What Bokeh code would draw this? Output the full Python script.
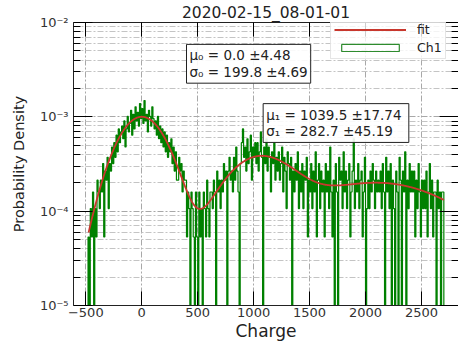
import numpy as np
from bokeh.plotting import figure
from bokeh.models import (Range1d, LogAxis, LinearAxis, FixedTicker,
                          CustomJSTickFormatter, Label, Legend, LegendItem)
from bokeh.embed import file_html
from bokeh.resources import INLINE

# ---- data -------------------------------------------------------------
title_text = "2020-02-15_08-01-01"

bin_start = -480
bin_width = 10
# counts per 10-unit charge bin, from -480 up to 2700
counts = [
    1, 0, 2, 1, 3, 0, 2, 1, 4, 3,
    2, 4, 3, 6, 1, 5, 4, 7, 2, 6,
    5, 9, 6, 10, 7, 12, 8, 14, 10, 13,
    15, 11, 17, 9, 14, 19, 13, 16, 22, 12,
    20, 14, 24, 17, 21, 15, 26, 18, 23, 16,
    28, 17, 20, 13, 22, 19, 15, 24, 18, 14,
    17, 12, 19, 11, 15, 10, 14, 9, 13, 8,
    12, 7, 10, 8, 11, 6, 9, 5, 8, 4,
    4, 7, 5, 6, 3, 5, 4, 4, 1, 3,
    2, 0, 3, 2, 1, 0, 3, 1, 0, 3,
    1, 2, 0, 3, 2, 1, 4, 2, 1, 3,
    3, 2, 4, 3, 0, 5, 3, 4, 2, 4,
    3, 6, 4, 5, 0, 5, 7, 4, 5, 3,
    7, 4, 9, 5, 3, 0, 6, 10, 14, 7,
    9, 5, 11, 6, 8, 12, 4, 9, 7, 10,
    6, 10, 5, 8, 13, 7, 0, 9, 6, 11,
    5, 9, 7, 3, 8, 6, 10, 4, 7, 5,
    8, 4, 6, 9, 3, 7, 5, 2, 8, 6,
    4, 7, 0, 5, 3, 6, 4, 8, 2, 5,
    3, 6, 2, 5, 4, 7, 1, 4, 3, 6,
    2, 5, 3, 8, 1, 4, 6, 2, 5, 3,
    4, 1, 6, 3, 5, 2, 9, 3, 1, 4,
    0, 6, 3, 0, 7, 4, 5, 2, 8, 3,
    5, 2, 4, 6, 1, 3, 5, 11, 2, 4,
    3, 6, 2, 4, 5, 1, 3, 7, 0, 2,
    4, 2, 5, 3, 6, 4, 2, 5, 3, 4,
    3, 5, 2, 6, 3, 0, 7, 3, 5, 2,
    6, 0, 4, 2, 0, 5, 3, 0, 7, 4,
    0, 5, 3, 8, 0, 4, 2, 6, 3, 5,
    3, 5, 1, 4, 2, 6, 3, 1, 4, 2,
    4, 2, 5, 1, 3, 6, 2, 4, 1, 3,
    3, 0, 4, 2, 3, 0, 3, 3,
]

# fit results
mu0, mu0_err = 0.0, 4.48
sigma0, sigma0_err = 199.8, 4.69
mu1, mu1_err = 1039.5, 17.74
sigma1, sigma1_err = 282.7, 45.19
amp0 = 1.0e-3
amp1 = 3.3e-4
mu2, sigma2, amp2 = 2100.0, 655.0, 2.0e-4

x_ticks = [-500, 0, 500, 1000, 1500, 2000, 2500]
y_decades = [-5, -4, -3, -2]

FONT = "DejaVu Sans"

# ---- derived arrays ---------------------------------------------------
counts = np.array(counts, dtype=float)
edges = bin_start + bin_width * np.arange(len(counts) + 1)
density = counts / (counts.sum() * bin_width)
floor = 1e-7  # empty bins fall below the visible range
density = np.where(density > 0, density, floor)
step_x = np.repeat(edges, 2)
step_y = np.concatenate([[floor], np.repeat(density, 2), [floor]])

fit_x = np.linspace(edges[0] + 5, edges[-1], 800)
fit_y = (amp0 * np.exp(-0.5 * ((fit_x - mu0) / sigma0) ** 2)
         + amp1 * np.exp(-0.5 * ((fit_x - mu1) / sigma1) ** 2)
         + amp2 * np.exp(-0.5 * ((fit_x - mu2) / sigma2) ** 2))

y_major = [10.0 ** d for d in y_decades]
y_minor = [m * 10.0 ** d for d in y_decades[:-1] for m in range(2, 10)]

# ---- figure -----------------------------------------------------------
p = figure(width=458, height=343, y_axis_type="log",
           x_range=Range1d(-610, 2831), y_range=Range1d(1e-5, 1e-2),
           output_backend="svg", toolbar_location=None,
           min_border_left=73, min_border_right=0,
           min_border_top=22, min_border_bottom=33)
p.outline_line_color = None
p.background_fill_color = "white"
p.border_fill_color = "white"

p.title.text = title_text
p.title.align = "center"
p.title.text_font = FONT
p.title.text_font_size = "15.5px"
p.title.text_font_style = "normal"
p.title.text_color = "#222222"
p.title.standoff = 2

sup_js = """
const e = Math.round(Math.log10(tick));
const sup = {"-": "\\u207b", "0": "\\u2070", "1": "\\u00b9", "2": "\\u00b2", "3": "\\u00b3",
             "4": "\\u2074", "5": "\\u2075", "6": "\\u2076", "7": "\\u2077", "8": "\\u2078", "9": "\\u2079"};
return "10" + String(e).split("").map(c => sup[c]).join("");
"""
minus_js = "return tick < 0 ? '\\u2212' + Math.abs(tick) : String(tick);"
blank_js = "return '';"

yt = FixedTicker(ticks=y_major, minor_ticks=y_minor)
xt = FixedTicker(ticks=x_ticks, minor_ticks=[])

ax = p.yaxis[0]
ax.ticker = yt
ax.formatter = CustomJSTickFormatter(code=sup_js)
ax.axis_label = "Probability Density"
ax.axis_label_text_font = FONT
ax.axis_label_text_font_size = "14.5px"
ax.axis_label_text_font_style = "normal"
ax.axis_label_text_color = "#222222"
ax.axis_label_standoff = 10
ax.major_label_text_font = FONT
ax.major_label_text_font_size = "13px"
ax.major_label_text_color = "#333333"
ax.major_label_standoff = 5
ax.major_tick_in = 19
ax.major_tick_out = 0
ax.minor_tick_in = 7
ax.minor_tick_out = 0
ax.axis_line_color = "#222222"

bx = p.xaxis[0]
bx.ticker = xt
bx.formatter = CustomJSTickFormatter(code=minus_js)
bx.axis_label = "Charge"
bx.axis_label_text_font = FONT
bx.axis_label_text_font_size = "17px"
bx.axis_label_text_font_style = "normal"
bx.axis_label_text_color = "#222222"
bx.axis_label_standoff = 1
bx.major_label_text_font = FONT
bx.major_label_text_font_size = "13px"
bx.major_label_text_color = "#333333"
bx.major_label_standoff = 2
bx.major_tick_in = 14
bx.major_tick_out = 0
bx.minor_tick_in = 0
bx.minor_tick_out = 0
bx.axis_line_color = "#222222"

top = LinearAxis(ticker=xt, formatter=CustomJSTickFormatter(code=blank_js),
                 major_label_standoff=0, major_tick_in=14, major_tick_out=0,
                 minor_tick_in=0, minor_tick_out=0, axis_line_color="#222222")
p.add_layout(top, "above")

right = LogAxis(ticker=yt, formatter=CustomJSTickFormatter(code=blank_js),
                major_label_standoff=0, major_tick_in=19, major_tick_out=0,
                minor_tick_in=7, minor_tick_out=0, axis_line_color=None)
p.add_layout(right, "right")

# grid
p.xgrid.ticker = xt
p.ygrid.ticker = yt
for g in (p.xgrid[0], p.ygrid[0]):
    g.grid_line_color = "#a8a8a8"
    g.grid_line_dash = "6 2 2 2"
    g.grid_line_width = 1
p.ygrid.minor_grid_line_color = "#c4c4c4"
p.ygrid.minor_grid_line_dash = "6 2 2 2"

# histogram and fit
hist = p.line(step_x, step_y, line_color="#008000", line_width=1.2)
fit = p.line(fit_x, fit_y, line_color="#c8372d", line_width=1.8)
box = p.quad(left=[0], right=[0], top=[1e-3], bottom=[1e-3], fill_color=None,
             line_color="#2e8b2e", line_width=1.2, visible=False)

legend = Legend(items=[LegendItem(label="fit", renderers=[fit]),
                       LegendItem(label="Ch1", renderers=[box])],
                location=(257, 246), orientation="vertical",
                glyph_width=72, glyph_height=9, label_height=16,
                label_standoff=11, spacing=2, padding=3, margin=0,
                label_text_font=FONT, label_text_font_size="12.5px",
                label_text_color="#222222",
                border_line_color="#cccccc", border_line_width=1,
                background_fill_color="white", background_fill_alpha=0.8)
p.add_layout(legend)

txt0 = f"\u03bc\u2080 = {mu0:.1f} \u00b1{mu0_err:.2f}\n\u03c3\u2080 = {sigma0:.1f} \u00b1{sigma0_err:.2f}"
txt1 = f"\u03bc\u2081 = {mu1:.1f}  \u00b1{mu1_err:.2f}\n\u03c3\u2081 = {sigma1:.1f} \u00b1{sigma1_err:.2f}"

for tx, lx, ly in ((txt0, 400, 10 ** -2.232), (txt1, 1085, 10 ** -2.86)):
    p.add_layout(Label(x=lx, y=ly, text=tx, text_align="left",
                       text_baseline="top", text_font=FONT,
                       text_font_size="13.5px", text_color="#222222",
                       text_line_height=1.05,
                       border_line_color="#222222", border_line_width=1,
                       background_fill_color="white",
                       background_fill_alpha=0.9, padding=3))

open("out.html", "w").write(file_html(p, INLINE))
